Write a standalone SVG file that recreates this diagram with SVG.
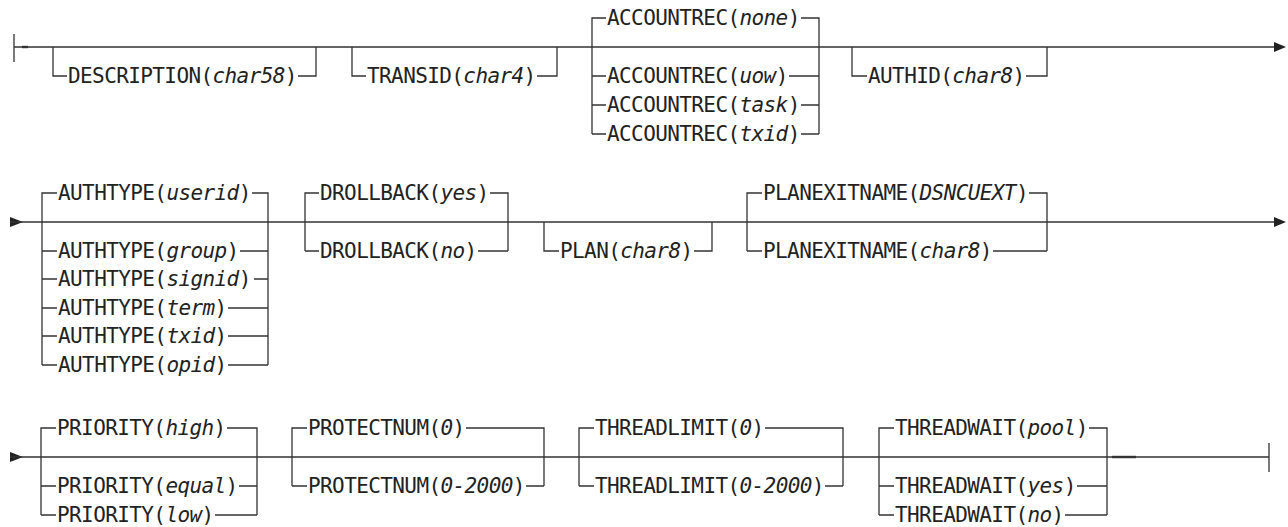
<svg xmlns="http://www.w3.org/2000/svg" width="1288" height="527" viewBox="0 0 1288 527">
<style>
  .c { fill: none; stroke: #333; stroke-width: 1.3; }
  .t { font-family: "DejaVu Sans Mono", "Liberation Mono", monospace; font-size: 21px; letter-spacing: -0.6px; fill: #222; }
  .i { font-style: italic; }
  .ah { fill: #222; }
</style>
<rect width="1288" height="527" fill="#fff"/>
<g id="connectors" class="c">
  <!-- row 1 -->
  <path d="M14,34 V62 M14,47 H1276"/>
  <path d="M22,47 H28" stroke-width="2.4"/>
  <polygon class="ah" points="1274,42 1286,47 1274,52" stroke="none"/>
  <path d="M53,47 V76 H67 M298,76 H316 V47"/>
  <path d="M352,47 V76 H366 M537,76 H557 V47"/>
  <path d="M592,134 V18 H606 M801,18 H819 V134 M592,76 H606 M789,76 H819 M592,105 H606 M801,105 H819 M592,134 H606 M801,134 H819"/>
  <path d="M852,47 V76 H867 M1026,76 H1047 V47"/>
  <!-- row 2 -->
  <polygon class="ah" points="10,217 23,222 10,227" stroke="none"/>
  <path d="M10,222 H1276"/>
  <polygon class="ah" points="1274,217 1286,222 1274,227" stroke="none"/>
  <path d="M42,365 V193 H57 M252,193 H268 V365 M42,251 H57 M240,251 H268 M42,279 H57 M254,279 H268 M42,308 H57 M228,308 H268 M42,336 H57 M228,336 H268 M42,365 H57 M228,365 H268"/>
  <path d="M305,251 V193 H319 M490,193 H508 V251 M305,251 H319 M478,251 H508"/>
  <path d="M544,222 V251 H559 M694,251 H712 V222"/>
  <path d="M747,251 V193 H762 M1029,193 H1047 V251 M747,251 H762 M993,251 H1047"/>
  <!-- row 3 -->
  <polygon class="ah" points="10,452 23,457 10,462" stroke="none"/>
  <path d="M10,457 H1269 M1269,443 V472"/>
  <path d="M1112,457 H1136" stroke-width="2.4"/>
  <path d="M41,515 V428 H56 M227,428 H257 V515 M41,486 H56 M239,486 H257 M41,515 H56 M215,515 H257"/>
  <path d="M292,486 V428 H307 M466,428 H544 V486 M292,486 H307 M526,486 H544"/>
  <path d="M579,486 V428 H594 M765,428 H843 V486 M579,486 H594 M825,486 H843"/>
  <path d="M879,515 V428 H894 M1089,428 H1107 V515 M879,486 H894 M1077,486 H1107 M879,515 H894 M1065,515 H1107"/>
</g>
<g id="node-description"><text class="t" x="68" y="83">DESCRIPTION(<tspan class="i">char58</tspan>)</text></g>
<g id="node-transid"><text class="t" x="367" y="83">TRANSID(<tspan class="i">char4</tspan>)</text></g>
<g id="node-accountrec">
  <text class="t" x="607" y="25">ACCOUNTREC(<tspan class="i">none</tspan>)</text>
  <text class="t" x="607" y="83">ACCOUNTREC(<tspan class="i">uow</tspan>)</text>
  <text class="t" x="607" y="112">ACCOUNTREC(<tspan class="i">task</tspan>)</text>
  <text class="t" x="607" y="141">ACCOUNTREC(<tspan class="i">txid</tspan>)</text>
</g>
<g id="node-authid"><text class="t" x="868" y="83">AUTHID(<tspan class="i">char8</tspan>)</text></g>
<g id="node-authtype">
  <text class="t" x="58" y="200">AUTHTYPE(<tspan class="i">userid</tspan>)</text>
  <text class="t" x="58" y="258">AUTHTYPE(<tspan class="i">group</tspan>)</text>
  <text class="t" x="58" y="286">AUTHTYPE(<tspan class="i">signid</tspan>)</text>
  <text class="t" x="58" y="315">AUTHTYPE(<tspan class="i">term</tspan>)</text>
  <text class="t" x="58" y="343">AUTHTYPE(<tspan class="i">txid</tspan>)</text>
  <text class="t" x="58" y="372">AUTHTYPE(<tspan class="i">opid</tspan>)</text>
</g>
<g id="node-drollback">
  <text class="t" x="320" y="200">DROLLBACK(<tspan class="i">yes</tspan>)</text>
  <text class="t" x="320" y="258">DROLLBACK(<tspan class="i">no</tspan>)</text>
</g>
<g id="node-plan"><text class="t" x="560" y="258">PLAN(<tspan class="i">char8</tspan>)</text></g>
<g id="node-planexitname">
  <text class="t" x="763" y="200">PLANEXITNAME(<tspan class="i">DSNCUEXT</tspan>)</text>
  <text class="t" x="763" y="258">PLANEXITNAME(<tspan class="i">char8</tspan>)</text>
</g>
<g id="node-priority">
  <text class="t" x="57" y="435">PRIORITY(<tspan class="i">high</tspan>)</text>
  <text class="t" x="57" y="493">PRIORITY(<tspan class="i">equal</tspan>)</text>
  <text class="t" x="57" y="522">PRIORITY(<tspan class="i">low</tspan>)</text>
</g>
<g id="node-protectnum">
  <text class="t" x="308" y="435">PROTECTNUM(<tspan class="i">0</tspan>)</text>
  <text class="t" x="308" y="493">PROTECTNUM(<tspan class="i">0-2000</tspan>)</text>
</g>
<g id="node-threadlimit">
  <text class="t" x="595" y="435">THREADLIMIT(<tspan class="i">0</tspan>)</text>
  <text class="t" x="595" y="493">THREADLIMIT(<tspan class="i">0-2000</tspan>)</text>
</g>
<g id="node-threadwait">
  <text class="t" x="895" y="435">THREADWAIT(<tspan class="i">pool</tspan>)</text>
  <text class="t" x="895" y="493">THREADWAIT(<tspan class="i">yes</tspan>)</text>
  <text class="t" x="895" y="522">THREADWAIT(<tspan class="i">no</tspan>)</text>
</g>
</svg>
